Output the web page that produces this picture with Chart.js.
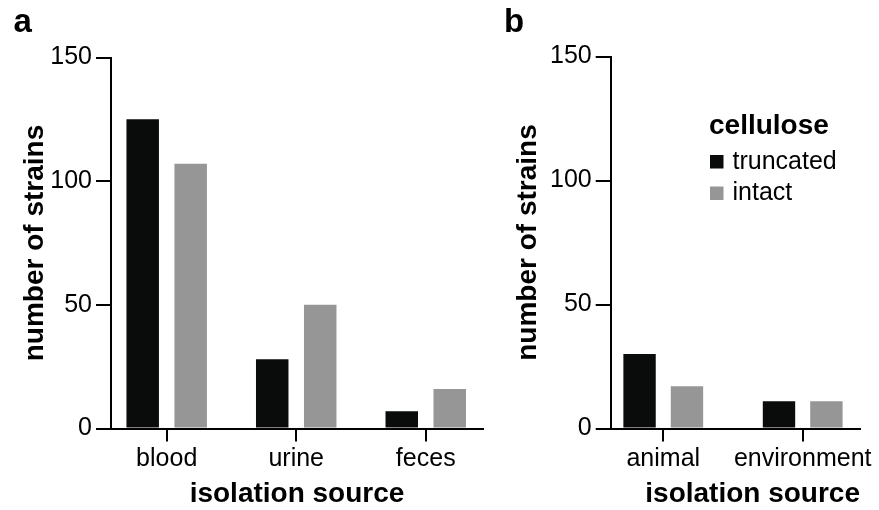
<!DOCTYPE html>
<html><head><meta charset="utf-8">
<script src="https://cdn.jsdelivr.net/npm/chart.js@4"></script>
<style>
html,body{margin:0;padding:0;background:#fff;width:879px;height:510px;overflow:hidden}
canvas{position:absolute;top:0}
#ca{left:0}
#cb{left:490px}
</style></head><body>
<canvas id="ca" width="490" height="510"></canvas>
<canvas id="cb" width="389" height="510"></canvas>
<script>
const categoriesA = ['blood', 'urine', 'feces'];
const truncatedA = [125, 28, 7];
const intactA = [107, 50, 16];
const categoriesB = ['animal', 'environment'];
const truncatedB = [30, 11];
const intactB = [17, 11];
const seriesNames = ['truncated', 'intact'];
const yTickValues = [0, 50, 100, 150];
const legendTitle = 'cellulose';
const xTitle = 'isolation source';
const yTitle = 'number of strains';
const panelLetters = ['a', 'b'];

const FONT = "'Liberation Sans', Arial, Helvetica, sans-serif";
const BLACK = '#0a0c0b';
const GRAY = '#969696';

const decorPlugin = {
  id: 'decor',
  afterDraw(chart, args, opts) {
    const ctx = chart.ctx;
    ctx.save();
    ctx.fillStyle = '#000';
    ctx.textBaseline = 'alphabetic';
    ctx.textAlign = 'left';
    ctx.font = 'bold 33px ' + FONT;
    ctx.fillText(opts.letter, opts.letterX, 31.5);
    if (opts.legend) {
      const L = opts.legend;
      ctx.font = 'bold 28px ' + FONT;
      ctx.fillText(legendTitle, L.x - 1, L.titleY);
      ctx.font = '25px ' + FONT;
      chart.data.datasets.forEach((ds, k) => {
        const by = L.firstY + k * L.step;
        ctx.fillStyle = ds.backgroundColor;
        ctx.fillRect(L.x, by - 13.5, 13.5, 13.5);
        ctx.fillStyle = '#000';
        ctx.fillText(ds.label, L.x + 22.5, by);
      });
    }
    ctx.restore();
  }
};

function makeChart(id, cats, tr, it, cfg) {
  const toXY = arr => arr.map((v, i) => ({x: i, y: v}));
  return new Chart(document.getElementById(id), {
    type: 'bar',
    data: {
      datasets: [
        {label: seriesNames[0], data: toXY(tr), backgroundColor: BLACK, borderWidth: 0,
         categoryPercentage: cfg.catPct, barPercentage: cfg.barPct},
        {label: seriesNames[1], data: toXY(it), backgroundColor: GRAY, borderWidth: 0,
         categoryPercentage: cfg.catPct, barPercentage: cfg.barPct}
      ]
    },
    plugins: [decorPlugin],
    options: {
      responsive: false,
      animation: false,
      devicePixelRatio: 1,
      layout: {padding: {top: cfg.top, right: cfg.right, left: 0, bottom: 0}},
      plugins: {
        legend: {display: false},
        tooltip: {enabled: false},
        decor: {letter: cfg.letter, letterX: cfg.letterX, legend: cfg.legend}
      },
      scales: {
        x: {
          type: 'linear',
          offset: false,
          min: cfg.xMin,
          max: cfg.xMax,
          afterBuildTicks: s => { s.ticks = cats.map((c, i) => ({value: i})); },
          afterFit: s => { s.height = 510 - 428.5; },
          ticks: {
            includeBounds: false,
            stepSize: 1,
            autoSkip: false,
            maxRotation: 0,
            minRotation: 0,
            color: '#000',
            padding: 3,
            font: {family: FONT, size: 25},
            callback: v => cats[v]
          },
          grid: {offset: false, drawOnChartArea: false, drawTicks: true, tickLength: 13, color: '#000', lineWidth: 2},
          border: {display: true, color: '#000', width: 2},
          title: {
            display: true, text: xTitle, color: '#000', align: cfg.xTitleAlign,
            font: {family: FONT, size: 28, weight: 'bold'},
            padding: {top: 0, bottom: -1}
          }
        },
        y: {
          min: 0,
          max: 150,
          afterBuildTicks: s => { s.ticks = yTickValues.map(v => ({value: v})); },
          afterFit: s => { s.width = cfg.yWidth; },
          ticks: {color: '#000', padding: 4, font: {family: FONT, size: 25}},
          grid: {drawOnChartArea: false, drawTicks: true, tickLength: 15, color: '#000', lineWidth: 2},
          border: {display: true, color: '#000', width: 2},
          title: {
            display: true, text: yTitle, color: '#000',
            font: {family: FONT, size: 28, weight: 'bold'},
            padding: {top: cfg.yTitlePad, bottom: 0}
          }
        }
      }
    }
  });
}

makeChart('ca', categoriesA, truncatedA, intactA, {
  yWidth: 111, top: 57.5, right: 7, xMin: -0.43, xMax: 2.442,
  catPct: 0.741, barPct: 0.677, letter: panelLetters[0], letterX: 13.5,
  yTitlePad: 18, xTitleAlign: 'center', legend: null
});
makeChart('cb', categoriesB, truncatedB, intactB, {
  yWidth: 120.7, top: 56.5, right: 19, xMin: -0.377, xMax: 1.411,
  catPct: 0.68, barPct: 0.683, letter: panelLetters[1], letterX: 14,
  yTitlePad: 21.5, xTitleAlign: 'end',
  legend: {x: 220, titleY: 134, firstY: 168.5, step: 31.5}
});
</script>
</body></html>
